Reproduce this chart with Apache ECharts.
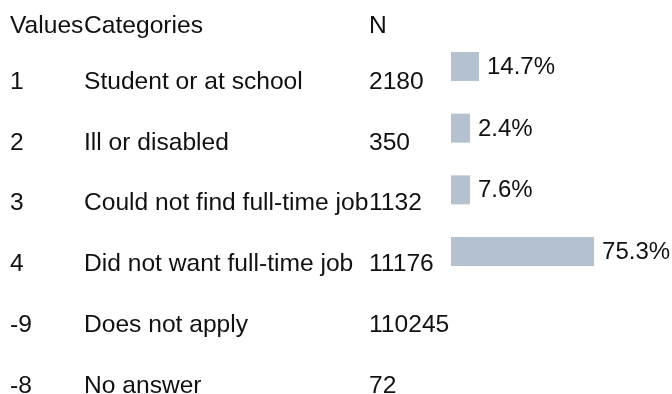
<!DOCTYPE html>
<html>
<head>
<meta charset="utf-8">
<script src="https://cdn.jsdelivr.net/npm/echarts@6/dist/echarts.min.js"></script>
<style>
  html, body { margin: 0; padding: 0; background: #fff; }
  #chart { width: 672px; height: 394px; }
</style>
</head>
<body>
<div id="chart"></div>
<script>
const headers = ["Values", "Categories", "N"];
const valueCodes = ["1", "2", "3", "4", "-9", "-8"];
const categories = [
  "Student or at school",
  "Ill or disabled",
  "Could not find full-time job",
  "Did not want full-time job",
  "Does not apply",
  "No answer",
];
const counts = [2180, 350, 1132, 11176, 110245, 72];
// percent only for the valid answers (first four rows)
const percents = [14.7, 2.4, 7.6, 75.3];

const font = "Liberation Sans, Arial, sans-serif";
const textColor = "#111";
const colX = [10, 84, 369];

const chart = echarts.init(document.getElementById("chart"));

const columns = [valueCodes, categories, counts.map(String)];

const grids = [];
const xAxes = [];
const yAxes = [];
const series = [];

columns.forEach((col, i) => {
  grids.push({ left: colX[i], top: 82, height: 304, width: 1, outerBoundsMode: "none" });
  xAxes.push({ gridIndex: i, type: "value", show: false });
  yAxes.push({
    gridIndex: i,
    type: "category",
    inverse: true,
    boundaryGap: false,
    data: col,
    axisLine: { show: false },
    axisTick: { show: false },
    splitLine: { show: false },
    axisLabel: {
      inside: true,
      margin: 0,
      interval: 0,
      fontSize: 24.6,
      fontFamily: font,
      color: textColor,
    },
  });
});

// bar grid
grids.push({ left: 451, top: 35.6, height: 246.8, width: 190, outerBoundsMode: "none" });
xAxes.push({ gridIndex: 3, type: "value", min: 0, max: 100, show: false });
yAxes.push({
  gridIndex: 3,
  type: "category",
  inverse: true,
  data: categories.slice(0, 4),
  show: false,
});
series.push({
  type: "bar",
  xAxisIndex: 3,
  yAxisIndex: 3,
  data: percents,
  barWidth: 29,
  barMinHeight: 19,
  itemStyle: { color: "#b4c2d0" },
  label: {
    show: true,
    position: "right",
    distance: 8,
    offset: [0, 1],
    formatter: "{c}%",
    fontSize: 24,
    fontFamily: font,
    color: textColor,
  },
  silent: true,
});

chart.setOption({
  animation: false,
  title: headers.map((h, i) => ({
    text: h,
    left: colX[i],
    top: 14,
    padding: 0,
    textStyle: {
      fontSize: 24.6,
      fontWeight: "normal",
      fontFamily: font,
      color: textColor,
    },
  })),
  grid: grids,
  xAxis: xAxes,
  yAxis: yAxes,
  series: series,
});
</script>
</body>
</html>
